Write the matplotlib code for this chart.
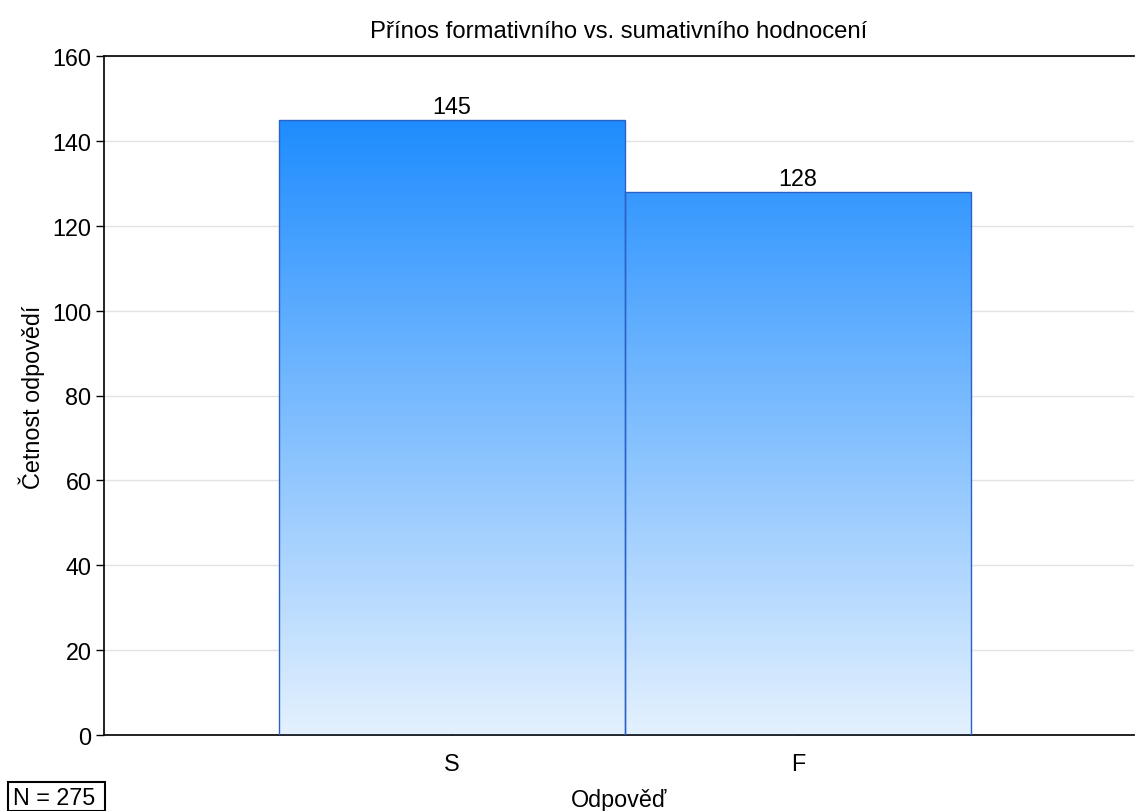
import numpy as np
import matplotlib
matplotlib.use("Agg")
import matplotlib.pyplot as plt
from matplotlib.colors import LinearSegmentedColormap
from matplotlib.patches import Rectangle

categories = ["S", "F"]
counts = [145, 128]
title = "Přínos formativního vs. sumativního hodnocení"
xlabel = "Odpověď"
ylabel = "Četnost odpovědí"
n_text = "N = 275"

plt.rcParams['font.family'] = ['Liberation Sans', 'DejaVu Sans']
FS = 16.8

fig = plt.figure(figsize=(11.35, 8.12), dpi=100)
W, H = 1135, 812
ax = fig.add_axes([104 / W, 1 - 736 / H, (1134 - 104) / W, (736 - 57) / H])

x = np.arange(len(categories))
bars = ax.bar(x, counts, width=1.0, color='none', edgecolor='#2a62c8', linewidth=1.0, zorder=3)

XL = (-1.006, 1.971)
cmap = LinearSegmentedColormap.from_list('g', ['#e4f1fe', '#0a82ff'])
grad = np.linspace(0, 1, 256).reshape(-1, 1)
for b in bars:
    im = ax.imshow(grad, cmap=cmap, aspect='auto', origin='lower',
                   extent=[XL[0], XL[1], 0, 160], zorder=2, interpolation='bilinear')
    im.set_clip_path(b)
ax.set_xlim(*XL)
ax.set_ylim(0, 160)

for xi, c in zip(x, counts):
    ax.text(xi, c + 0.4, str(c), ha='center', va='bottom', fontsize=FS, zorder=4)

ax.set_yticks(range(0, 161, 20))
ax.set_xticks(x)
ax.set_xticklabels(categories)
ax.yaxis.grid(True, color='#e3e3e3', linewidth=1.0, zorder=0)
ax.set_axisbelow(True)
ax.spines['right'].set_visible(False)
for s in ['left', 'bottom', 'top']:
    ax.spines[s].set_linewidth(1.3)
    ax.spines[s].set_color('#111111')
ax.tick_params(axis='y', direction='out', length=6, labelsize=FS, width=1, pad=3)
ax.tick_params(axis='x', direction='in', length=5, labelsize=FS, width=1, pad=12)

ax.set_title(title, fontsize=17.2, pad=14)
fig.text(619 / W, 1 - 801 / H, xlabel, ha='center', va='center', fontsize=FS)
fig.text(32 / W, 1 - 397 / H, ylabel, ha='center', va='center', rotation=90, fontsize=FS)
fig.add_artist(Rectangle((8 / W, 1 - 812 / H), 97 / W, 29 / H, transform=fig.transFigure,
                         facecolor='white', edgecolor='black', linewidth=1.5))
fig.text(13 / W, 1 - 799 / H, n_text, ha='left', va='center', fontsize=FS)

fig.savefig('out.png', dpi=100)
